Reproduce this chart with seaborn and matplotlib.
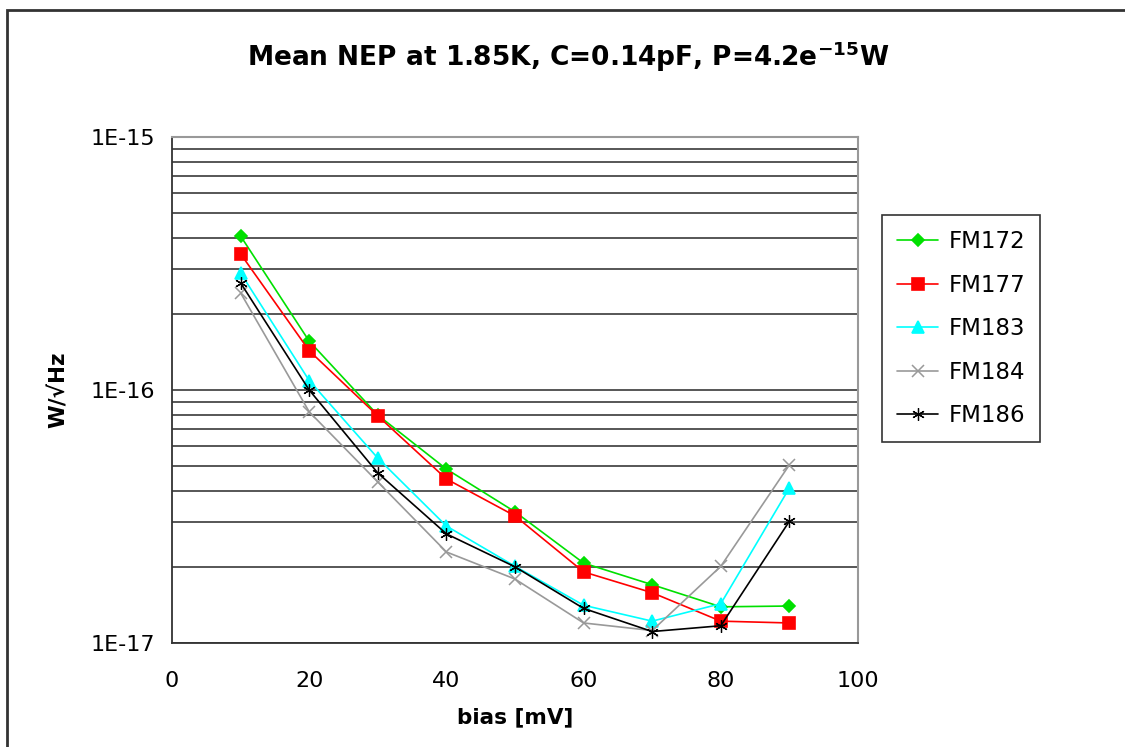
import numpy as np
import pandas as pd
import matplotlib
matplotlib.use("Agg")
import matplotlib.pyplot as plt
from matplotlib.patches import Rectangle
from matplotlib.ticker import LogLocator, NullFormatter
import seaborn as sns

# Bias voltage steps [mV]
bias = [10, 20, 30, 40, 50, 60, 70, 80, 90]

# Mean NEP per detector [W/sqrt(Hz)]
fm172 = [4.06e-16, 1.56e-16, 7.96e-17, 4.87e-17, 3.30e-17, 2.07e-17, 1.70e-17, 1.39e-17, 1.40e-17]
fm177 = [3.45e-16, 1.43e-16, 7.90e-17, 4.45e-17, 3.18e-17, 1.91e-17, 1.58e-17, 1.22e-17, 1.20e-17]
fm183 = [2.90e-16, 1.09e-16, 5.38e-17, 2.90e-17, 2.01e-17, 1.41e-17, 1.22e-17, 1.43e-17, 4.10e-17]
fm184 = [2.42e-16, 8.20e-17, 4.33e-17, 2.29e-17, 1.79e-17, 1.20e-17, 1.12e-17, 2.01e-17, 5.06e-17]
fm186 = [2.65e-16, 1.00e-16, 4.70e-17, 2.70e-17, 2.00e-17, 1.37e-17, 1.11e-17, 1.17e-17, 3.03e-17]

series_names = ["FM172", "FM177", "FM183", "FM184", "FM186"]
series_values = [fm172, fm177, fm183, fm184, fm186]

y_ticks = [1e-17, 1e-16, 1e-15]
y_tick_labels = ["1E-17", "1E-16", "1E-15"]
x_ticks = [0, 20, 40, 60, 80, 100]

colors = {"FM172": "#00e000", "FM177": "#ff0000", "FM183": "#00ffff",
          "FM184": "#999999", "FM186": "#000000"}
markers = {"FM172": "D", "FM177": "s", "FM183": "^", "FM184": "x",
           "FM186": (6, 2, 0)}
marker_sizes = {"FM172": 6.5, "FM177": 8, "FM183": 8.5, "FM184": 8,
                "FM186": 9}
edge_widths = {"FM172": 1.2, "FM177": 1.2, "FM183": 1.2, "FM184": 1.1,
               "FM186": 0.9}

sns.set_theme(style="white")
plt.rcParams["font.family"] = ["DejaVu Sans"]
plt.rcParams["mathtext.fontset"] = "dejavusans"
for key in ("text.color", "axes.labelcolor", "xtick.color", "ytick.color"):
    plt.rcParams[key] = "black"

fig = plt.figure(figsize=(11.25, 7.47), dpi=100)
ax = fig.add_axes([172 / 1125, 1 - 643 / 747, (858 - 172) / 1125, (643 - 137) / 747])

for name, vals in zip(series_names, series_values):
    df = pd.DataFrame({"bias": bias, "nep": vals})
    sns.lineplot(data=df, x="bias", y="nep", ax=ax, label=name,
                 color=colors[name], marker=markers[name],
                 markersize=marker_sizes[name],
                 markeredgewidth=edge_widths[name],
                 markeredgecolor=colors[name], markerfacecolor=colors[name],
                 linewidth=1.2, zorder=3)

ax.set_yscale("log")
ax.set_ylim(1e-17, 1e-15)
ax.set_xlim(0, 100)
ax.set_xticks(x_ticks)
ax.set_yticks(y_ticks, labels=y_tick_labels)
ax.yaxis.set_minor_locator(LogLocator(base=10, subs=np.arange(2, 10)))
ax.yaxis.set_minor_formatter(NullFormatter())
ax.tick_params(axis="y", which="minor", length=0)
ax.tick_params(axis="both", which="major", direction="out", length=6,
               width=1, color="#333333", labelsize=16, pad=6)
ax.tick_params(axis="x", pad=14)

ax.yaxis.grid(True, which="both", color="#3a3a3a", linewidth=1.2, zorder=0)
ax.xaxis.grid(False)
ax.set_axisbelow(True)

for side in ("left", "bottom"):
    ax.spines[side].set_color("#333333")
    ax.spines[side].set_linewidth(1.3)
for side in ("top", "right"):
    ax.spines[side].set_color("#999999")
    ax.spines[side].set_linewidth(1.5)

ax.set_xlabel("bias [mV]", fontsize=15.5, fontweight="bold", labelpad=12)
ax.set_ylabel("W/\u221aHz", fontsize=15.5, fontweight="bold", labelpad=16)

fig.text(568 / 1125, 1 - 57 / 747,
         r"Mean NEP at 1.85K, C=0.14pF, P=4.2e$^{\mathbf{-15}}$W",
         ha="center", va="center", fontsize=19, fontweight="bold")

handles, labels = ax.get_legend_handles_labels()
leg = ax.legend(handles, labels, loc="upper left",
                bbox_to_anchor=(882 / 1125, 1 - 215 / 747),
                bbox_transform=fig.transFigure, fontsize=16.5, frameon=True,
                fancybox=False, edgecolor="#333333", framealpha=1,
                handlelength=1.8, labelspacing=0.9, borderpad=0.65,
                handletextpad=0.45, borderaxespad=0)
leg.get_frame().set_linewidth(1.2)

# outer chart frame
fig.patches.append(Rectangle((7 / 1125, -0.05), 1.1, 1 - 10 / 747 + 0.05,
                             transform=fig.transFigure, fill=False,
                             edgecolor="#333333", linewidth=2))

fig.savefig("out.png", dpi=100)
